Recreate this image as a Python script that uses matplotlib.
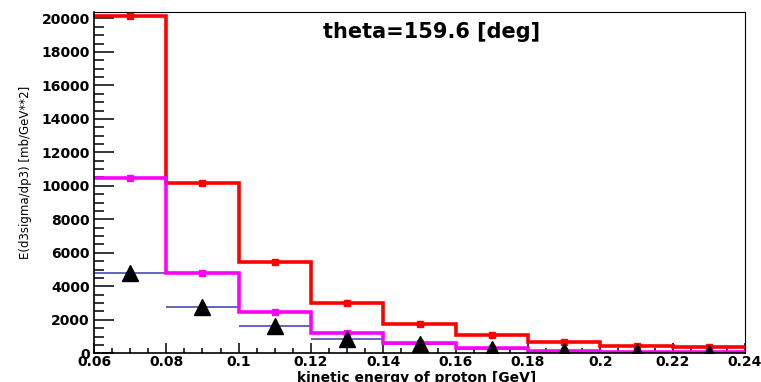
import matplotlib
matplotlib.use("Agg")
import matplotlib.pyplot as plt
from matplotlib.ticker import MultipleLocator

# bin edges of kinetic energy [GeV]
edges = [0.06, 0.08, 0.10, 0.12, 0.14, 0.16, 0.18, 0.20, 0.22, 0.24]
centers = [0.07, 0.09, 0.11, 0.13, 0.15, 0.17, 0.19, 0.21, 0.23]

red_vals = [20150, 10150, 5450, 2990, 1750, 1110, 660, 435, 355]
magenta_vals = [10480, 4810, 2480, 1230, 630, 300, 155, 100, 95]
data_vals = [4780, 2780, 1620, 860, 550, 280, 140, 60, 45]

xticks = [0.06, 0.08, 0.10, 0.12, 0.14, 0.16, 0.18, 0.20, 0.22, 0.24]
xtick_labels = ["0.06", "0.08", "0.1", "0.12", "0.14", "0.16", "0.18", "0.2", "0.22", "0.24"]
yticks = [0, 2000, 4000, 6000, 8000, 10000, 12000, 14000, 16000, 18000, 20000]

fig = plt.figure(figsize=(7.61, 3.82), dpi=100)
ax = fig.add_axes([0.1235, 0.0751, 0.8555, 0.8942])

ax.stairs(red_vals, edges, baseline=None, color="#ff0000", linewidth=2.6, zorder=3)
ax.plot(centers, red_vals, "s", color="#ff0000", markersize=4.5, zorder=3)

ax.stairs(magenta_vals, edges, baseline=None, color="#ff00ff", linewidth=2.6, zorder=4)
ax.plot(centers, magenta_vals, "s", color="#ff00ff", markersize=4.5, zorder=4)

ax.errorbar(centers, data_vals, xerr=0.01, fmt="none", ecolor="#3a3aa8",
            elinewidth=1.1, capsize=0, zorder=2)
ax.plot(centers, data_vals, "^", color="black", markersize=11, zorder=5)

ax.set_xlim(0.06, 0.24)
ax.set_ylim(0, 20400)
ax.set_xticks(xticks)
ax.set_xticklabels(xtick_labels)
ax.set_yticks(yticks)
ax.xaxis.set_minor_locator(MultipleLocator(0.005))
ax.yaxis.set_minor_locator(MultipleLocator(500))

ax.tick_params(axis="y", which="major", direction="in", length=14.4, width=1.1,
               pad=3, labelsize=10)
ax.tick_params(axis="y", which="minor", direction="in", length=7.2, width=1.1)
ax.tick_params(axis="x", which="major", direction="in", length=7.2, width=1.1,
               pad=1, labelsize=10)
ax.tick_params(axis="x", which="minor", direction="in", length=3.6, width=1.1)
for lab in ax.get_xticklabels() + ax.get_yticklabels():
    lab.set_fontweight("bold")
    lab.set_family("DejaVu Sans")

for side in ["top", "right"]:
    ax.spines[side].set_linewidth(0.8)
for side in ["left", "bottom"]:
    ax.spines[side].set_linewidth(1.2)
    ax.spines[side].set_zorder(6)

ax.text(0.518, 0.94, "theta=159.6 [deg]", transform=ax.transAxes, ha="center",
        va="center", fontsize=15, fontweight="bold")

fig.text(0.033, 0.55, "E(d3sigma/dp3) [mb/GeV**2]", rotation=90, ha="center",
         va="center", fontsize=8.5)
fig.text(0.548, 0.028, "kinetic energy of proton [GeV]", ha="center", va="top",
         fontsize=10, fontweight="bold")

fig.savefig("out.png", dpi=100)
